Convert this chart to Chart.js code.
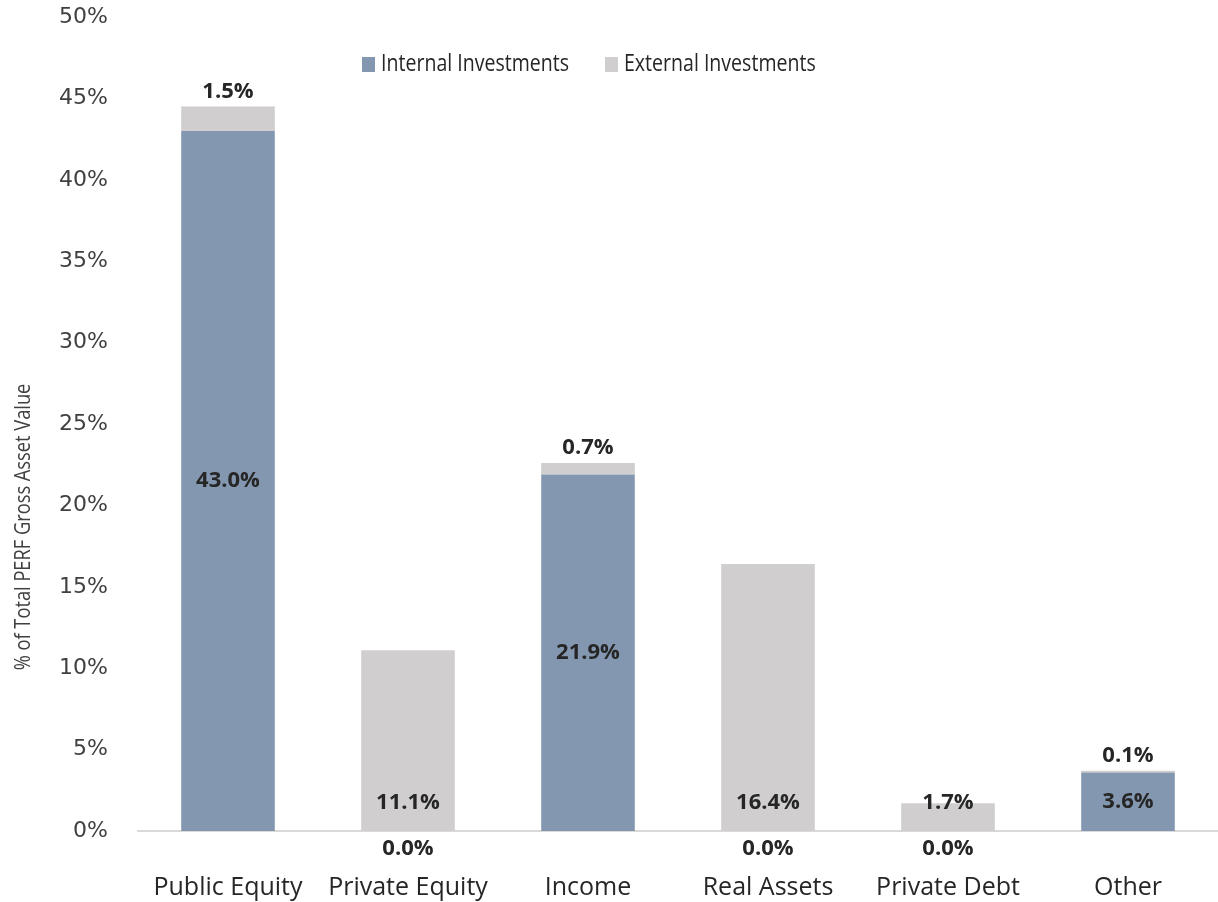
<!DOCTYPE html>
<html lang="en">
    <head>
        <meta charset="utf-8" />
        <title>PERF asset mix</title>
        <style>
            html, body { margin: 0; padding: 0; background: #ffffff; }
            #mix { display: block; }
        </style>
    </head>
    <body>
        <canvas id="mix" width="1218" height="902"></canvas>
        <script src="https://cdn.jsdelivr.net/npm/chart.js@4.4.1/dist/chart.umd.min.js"></script>
        <script>
            var categories = ["Public Equity", "Private Equity", "Income", "Real Assets", "Private Debt", "Other"];
            var internalPct = [43.0, 0.0, 21.9, 0.0, 0.0, 3.6];
            var externalPct = [1.5, 11.1, 0.7, 16.4, 1.7, 0.1];
            var yTicks = [0, 5, 10, 15, 20, 25, 30, 35, 40, 45, 50];

            // value labels: internal in the middle of its block (or under the axis when zero),
            // external above the stack, or sitting on the base when there is nothing inside
            var valueLabels = {
                id: "valueLabels",
                afterDatasetsDraw: function (chart) {
                    var ctx = chart.ctx;
                    ctx.save();
                    ctx.font = "bold 22px 'Open Sans'";
                    ctx.fillStyle = "#262626";
                    ctx.textAlign = "center";
                    ctx.textBaseline = "middle";
                    chart.data.datasets.forEach(function (ds, di) {
                        chart.getDatasetMeta(di).data.forEach(function (bar, i) {
                            var v = ds.data[i];
                            var y;
                            if (di === 0) {
                                y = v > 0 ? (bar.y + bar.base) / 2 : bar.base + 18;
                            } else {
                                y = internalPct[i] > 0 ? bar.y - 15 : bar.base - 28;
                            }
                            ctx.fillText(v.toFixed(1) + "%", bar.x, y);
                        });
                    });
                    ctx.restore();
                }
            };

            // draws text squeezed horizontally, a stand-in for a condensed face
            function condensedText(ctx, text, x, y, squeeze) {
                ctx.save();
                ctx.translate(x, y);
                ctx.scale(squeeze, 1);
                ctx.fillText(text, 0, 0);
                ctx.restore();
            }

            // legend row and the rotated axis title
            var decorations = {
                id: "decorations",
                afterDraw: function (chart) {
                    var ctx = chart.ctx;
                    ctx.save();
                    ctx.font = "23px 'Open Sans'";
                    ctx.textBaseline = "middle";
                    ctx.textAlign = "left";
                    var x = 362;
                    chart.data.datasets.forEach(function (ds) {
                        ctx.fillStyle = ds.backgroundColor;
                        ctx.fillRect(x, 57, 13, 15);
                        ctx.fillStyle = "#262626";
                        condensedText(ctx, ds.label, x + 19, 64, 0.85);
                        x += 243;
                    });

                    ctx.translate(24, 527);
                    ctx.rotate(-Math.PI / 2);
                    ctx.textAlign = "center";
                    ctx.font = "22px 'Open Sans'";
                    ctx.fillStyle = "#404040";
                    condensedText(ctx, "% of Total PERF Gross Asset Value", 0, 0, 0.83);
                    ctx.restore();
                }
            };

            new Chart(document.getElementById("mix").getContext("2d"), {
                type: "bar",
                data: {
                    labels: categories,
                    datasets: [
                        { label: "Internal Investments", data: internalPct, backgroundColor: "#8497b0" },
                        { label: "External Investments", data: externalPct, backgroundColor: "#d0cece" }
                    ]
                },
                options: {
                    responsive: false,
                    animation: false,
                    events: [],
                    layout: { padding: { top: 17, right: 0, left: 0, bottom: 0 } },
                    datasets: { bar: { categoryPercentage: 1, barPercentage: 0.52 } },
                    plugins: {
                        legend: { display: false },
                        tooltip: { enabled: false }
                    },
                    scales: {
                        x: {
                            stacked: true,
                            grid: { display: false, drawTicks: false },
                            border: { display: true, color: "#d9d9d9", width: 2 },
                            ticks: { color: "#262626", font: { family: "Open Sans", size: 25 }, padding: 42, maxRotation: 0, autoSkip: false },
                            afterFit: function (scale) {
                                scale.height = 71;
                                scale.paddingLeft = 0;
                                scale.paddingRight = 0;
                            }
                        },
                        y: {
                            stacked: true,
                            min: 0,
                            max: 50,
                            afterBuildTicks: function (scale) {
                                scale.ticks = yTicks.map(function (v) { return { value: v }; });
                            },
                            grid: { display: false, drawTicks: false },
                            border: { display: false },
                            ticks: {
                                color: "#404040",
                                font: { family: "DejaVu Sans", size: 22 },
                                padding: 30,
                                callback: function (v) { return v + "%"; }
                            },
                            afterFit: function (scale) {
                                scale.width = 138;
                                scale.paddingTop = 0;
                                scale.paddingBottom = 0;
                            }
                        }
                    }
                },
                plugins: [valueLabels, decorations]
            });
        </script>
    </body>
</html>
